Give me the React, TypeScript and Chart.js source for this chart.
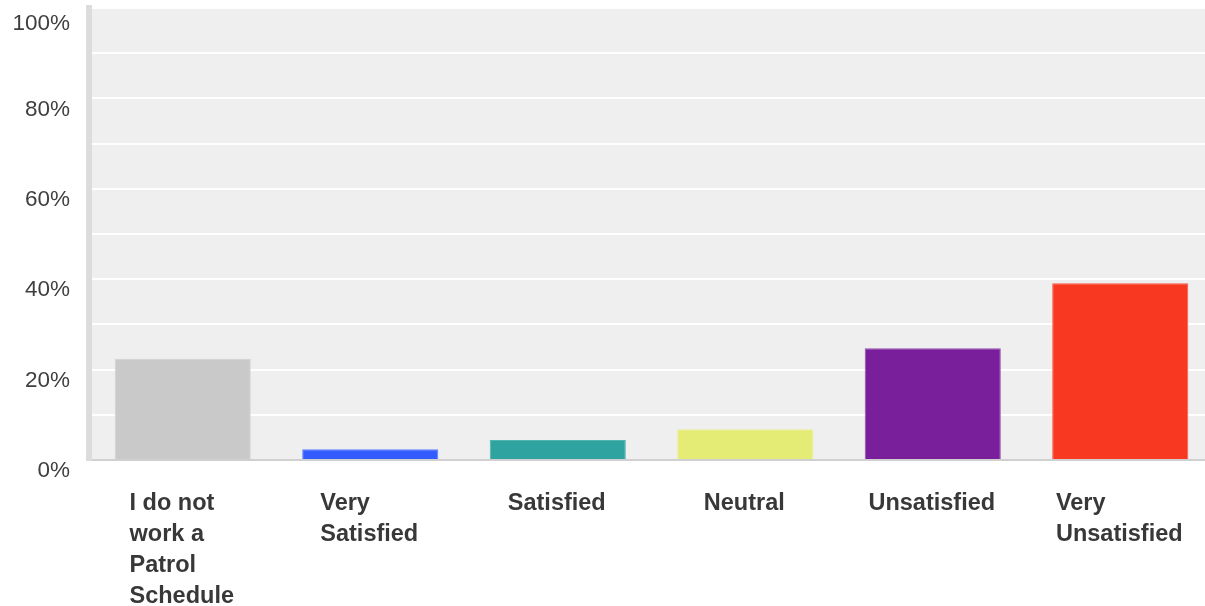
import React, { useEffect, useRef } from "react";
import { Chart, registerables } from "chart.js";

Chart.register(...registerables);

const categories: string[][] = [
  ["I do not", "work a", "Patrol", "Schedule"],
  ["Very", "Satisfied"],
  ["Satisfied"],
  ["Neutral"],
  ["Unsatisfied"],
  ["Very", "Unsatisfied"],
];
const values: number[] = [22.4, 2.4, 4.4, 6.8, 24.7, 39.1];
const barColors: string[] = ["#c9c9c9", "#335bff", "#2fa39f", "#e5ec75", "#7a1f9c", "#f93822"];
const barBorders: string[] = ["#d2d2d2", "#5f7fff", "#4fb3af", "#ecf08f", "#9350ae", "#fb5a48"];
const yTicks: number[] = [0, 20, 40, 60, 80, 100];

const FONT = "'Liberation Sans', Arial, sans-serif";
const X_FONT_SIZE = 23.5;
const X_LINE_H = 31;
const X_PAD = 28;

const bgPlugin = {
  id: "plotBg",
  beforeDraw(chart: any) {
    const { ctx, chartArea } = chart;
    ctx.save();
    ctx.fillStyle = "#efefef";
    ctx.fillRect(chartArea.left, chartArea.top, chartArea.right - chartArea.left, chartArea.bottom - chartArea.top);
    ctx.restore();
  },
};

const xLabelPlugin = {
  id: "xLabels",
  afterDraw(chart: any) {
    const { ctx } = chart;
    const xs = chart.scales.x;
    ctx.save();
    ctx.font = `bold ${X_FONT_SIZE}px ${FONT}`;
    ctx.fillStyle = "#383838";
    ctx.textAlign = "left";
    ctx.textBaseline = "middle";
    categories.forEach((lines, i) => {
      const cx = xs.getPixelForTick(i);
      const maxW = Math.max(...lines.map((l) => ctx.measureText(l).width));
      const left = cx - maxW / 2 - 1;
      lines.forEach((l, j) => {
        ctx.fillText(l, left, xs.top + X_PAD + X_LINE_H / 2 + j * X_LINE_H);
      });
    });
    ctx.restore();
  },
};

export default function App() {
  const ref = useRef<HTMLCanvasElement | null>(null);
  useEffect(() => {
    if (!ref.current) return;
    const chart = new Chart(ref.current, {
      type: "bar",
      data: {
        labels: categories,
        datasets: [
          {
            data: values,
            backgroundColor: barColors,
            borderColor: barBorders,
            borderWidth: 1,
            barPercentage: 0.726,
            categoryPercentage: 1,
          },
        ],
      },
      options: {
        responsive: false,
        animation: false,
        layout: { padding: { top: 0, right: 0, bottom: 0, left: 0 } },
        plugins: { legend: { display: false }, tooltip: { enabled: false } },
        scales: {
          x: {
            grid: { display: false, drawTicks: false },
            border: { display: true, color: "#d0d0d0", width: 2 },
            afterFit(scale: any) {
              scale.height = X_PAD + 4 * X_LINE_H;
            },
            ticks: {
              color: "rgba(0,0,0,0)",
              font: { family: FONT, size: X_FONT_SIZE, weight: "bold", lineHeight: X_LINE_H / X_FONT_SIZE },
              padding: X_PAD,
              maxRotation: 0,
              minRotation: 0,
              autoSkip: false,
            },
          },
          y: {
            min: 0,
            max: 100,
            afterFit(scale: any) {
              scale.width = 89;
              scale.paddingTop = 8;
              scale.paddingBottom = 0;
            },
            grid: { color: "#ffffff", lineWidth: 2, drawTicks: false },
            border: { display: true, color: "#dcdcdc", width: 6 },
            ticks: {
              stepSize: 10,
              color: "#3f3f3f",
              font: { family: FONT, size: 22.5, lineHeight: 0.4 },
              padding: 19,
              labelOffset: 11,
              callback: (v: any) => {
                const n = Number(v);
                if (!yTicks.includes(n)) return "";
                return n === 100 ? ["", `${n}%`] : `${n}%`;
              },
            },
          },
        },
      },
      plugins: [bgPlugin, xLabelPlugin],
    });
    return () => chart.destroy();
  }, []);
  return (
    <div style={{ position: "fixed", left: 0, top: 0, width: 1205, height: 606, overflow: "hidden", background: "#fff" }}>
      <canvas ref={ref} width={1214} height={612} style={{ display: "block" }} />
    </div>
  );
}
